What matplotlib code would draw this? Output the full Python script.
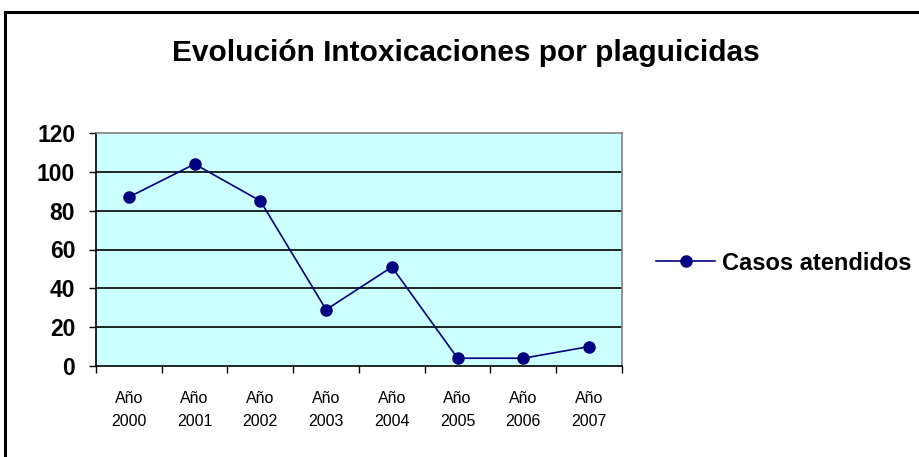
import matplotlib
matplotlib.use("Agg")
import matplotlib.pyplot as plt
from matplotlib.patches import Rectangle
from matplotlib.lines import Line2D

title = "Evolución Intoxicaciones por plaguicidas"
categories = ["Año\n2000", "Año\n2001", "Año\n2002", "Año\n2003",
              "Año\n2004", "Año\n2005", "Año\n2006", "Año\n2007"]
casos = [87, 104, 85, 29, 51, 4, 4, 10]
series_name = "Casos atendidos"
yticks = [0, 20, 40, 60, 80, 100, 120]

plt.rcParams['font.family'] = ['Liberation Sans', 'DejaVu Sans']

fig = plt.figure(figsize=(9.2, 4.57), dpi=100)
fig.patch.set_facecolor("white")

# outer chart frame (extends beyond right/bottom edges)
frame = Rectangle((5/920, -0.1), 1.2, 1 - 12/457 + 0.1, transform=fig.transFigure,
                  fill=False, edgecolor="black", linewidth=2.2, clip_on=False)
fig.patches.append(frame)

ax = fig.add_axes([96/920, 1 - 366/457, (622 - 96)/920, (366 - 133)/457])
ax.set_facecolor("#CCFFFF")

x = list(range(len(categories)))
ax.plot(x, casos, color="#000080", linewidth=1.2, marker="o", markersize=8,
        markerfacecolor="#000080", markeredgecolor="#000080", zorder=3)

ax.set_xlim(-0.5, len(categories) - 0.5)
ax.set_ylim(0, 120)
ax.set_yticks(yticks)
ax.set_yticklabels([str(v) for v in yticks], fontsize=16.5, fontweight="bold")
for v in yticks[1:-1]:
    ax.axhline(v, color="black", linewidth=1.2, zorder=1)

# x ticks at category boundaries, labels at centers
ax.set_xticks([i - 0.5 for i in range(len(categories) + 1)])
ax.set_xticklabels([])
ax.set_xticks(x, minor=True)
ax.set_xticklabels(categories, minor=True, fontsize=11.5, linespacing=1.7)
ax.tick_params(axis="x", which="major", direction="out", length=5, width=1, color="black")
ax.tick_params(axis="x", which="minor", length=0, pad=18)
ax.tick_params(axis="y", direction="out", length=5, width=1, color="black", pad=10)

ax.spines["left"].set_color("black")
ax.spines["bottom"].set_color("black")
ax.spines["left"].set_linewidth(1.2)
ax.spines["bottom"].set_linewidth(1.2)
ax.spines["top"].set_color("#808080")
ax.spines["right"].set_color("#808080")
ax.spines["top"].set_linewidth(1.2)
ax.spines["right"].set_linewidth(1.2)

fig.text(466/920, 1 - 53/457, title, ha="center", va="center",
         fontsize=21.5, fontweight="bold")

handle = Line2D([], [], color="#000080", linewidth=1.2, marker="o", markersize=8)
leg = fig.legend([handle], [series_name], loc="center left",
                 bbox_to_anchor=(656/920, 1 - 263/457), frameon=False,
                 prop={"size": 17, "weight": "bold"}, handlelength=2.5,
                 handletextpad=0.3, borderaxespad=0, borderpad=0)

fig.savefig("out.png", dpi=100)
